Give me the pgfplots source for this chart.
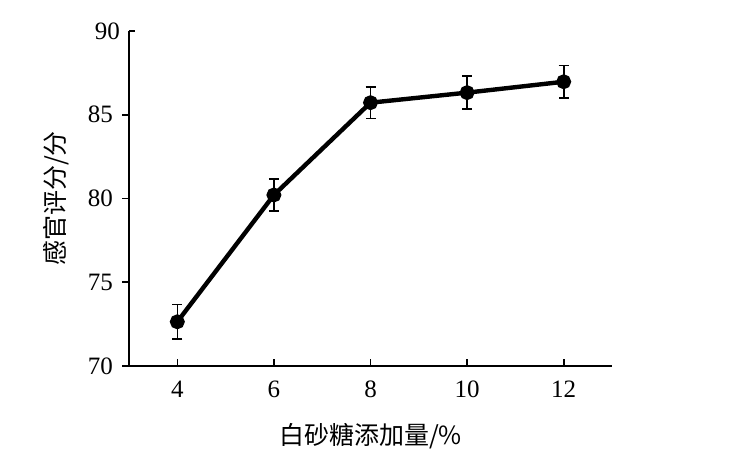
\documentclass[border=0pt]{standalone}
\usepackage{fontspec}
\setmainfont{Liberation Serif}
\newfontfamily\cjk{Noto Sans CJK SC}
\usepackage{pgfplots}
\pgfplotsset{compat=1.18}

\begin{document}
\begin{tikzpicture}
% page frame
\useasboundingbox (0pt,0pt) rectangle (376.5pt,232pt);
\begin{axis}[
  at={(64.5pt,49pt)}, anchor=south west,
  scale only axis,
  width=241.5pt, height=167.5pt,
  xmin=3, xmax=13, ymin=70, ymax=90,
  axis lines=left,
  axis line style={line width=1pt,-},
  xtick={4,6,8,10,12},
  ytick={70,75,80,85},
  extra y ticks={90},
  extra y tick style={tick align=inside, major tick length=3pt},
  x tick style={line width=0.8pt, black},
  y tick style={line width=0.8pt, black},
  xtick align=inside,
  ytick align=outside,
  major tick length=3.5pt,
  tick label style={font=\fontsize{12.5}{14}\selectfont},
  /pgf/number format/assume math mode=true,
  xticklabel style={yshift=-4pt},
  yticklabel style={xshift=-1pt},
  xlabel={\cjk 白砂糖添加量/\%},
  ylabel={\cjk 感官评分/分},
  label style={font=\fontsize{12.5}{14}\selectfont},
  xlabel style={yshift=-6pt},
  ylabel style={yshift=-1pt},
  clip=false,
]
\addplot[black, line width=2.2pt, mark=*, mark size=2.6pt,
  error bars/.cd, y dir=both, y explicit,
  error bar style={line width=0.8pt, black},
  error mark options={black, line width=0.8pt, mark size=2.5pt, rotate=90}]
  coordinates {
    (4,72.64)  +- (0,1.04)
    (6,80.21)  +- (0,0.96)
    (8,85.72)  +- (0,0.95)
    (10,86.32) +- (0,0.99)
    (12,86.97) +- (0,0.97)
  };
\end{axis}
\end{tikzpicture}
\end{document}
